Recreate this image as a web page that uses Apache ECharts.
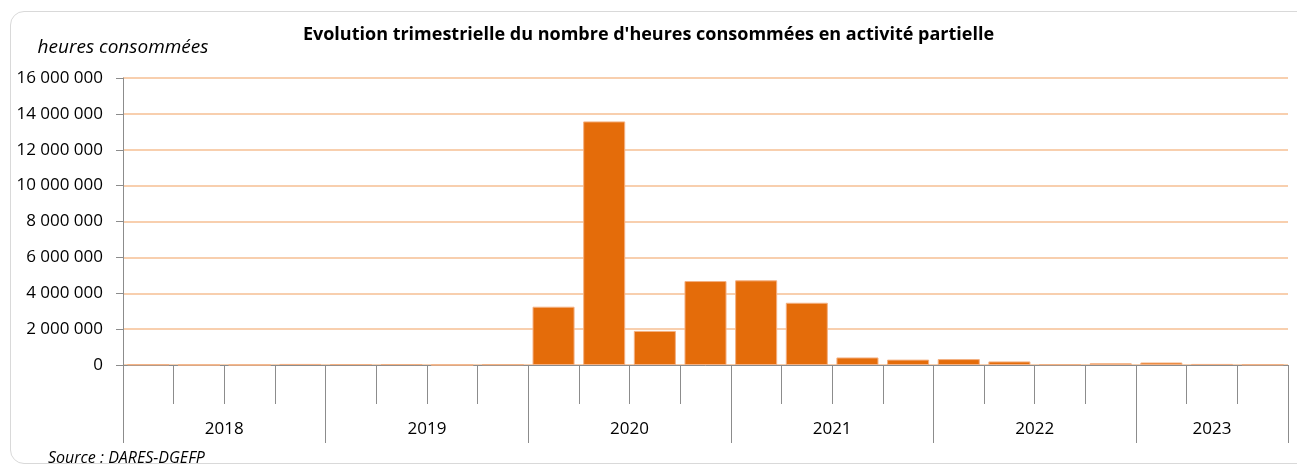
<!DOCTYPE html>
<html>
<head>
<meta charset="utf-8">
<script src="https://cdn.jsdelivr.net/npm/echarts@6/dist/echarts.min.js"></script>
<style>
    body { margin: 0; background: #fff; }
    #frame { position: absolute; left: 10px; top: 11px; width: 1400px; height: 451px; border: 1px solid #d9d9d9; border-radius: 14px; }
    #chart { position: absolute; left: 0; top: 0; width: 1297px; height: 466px; }
</style>
</head>
<body>
<div id="frame"></div>
<div id="chart"></div>
<script>
// Data
var years = ['2018', '2019', '2020', '2021', '2022', '2023'];
var quartersPerYear = [4, 4, 4, 4, 4, 3];
var quarters = ['T1', 'T2', 'T3', 'T4', 'T1', 'T2', 'T3', 'T4', 'T1', 'T2', 'T3', 'T4',
    'T1', 'T2', 'T3', 'T4', 'T1', 'T2', 'T3', 'T4', 'T1', 'T2', 'T3'];
var hours = [30000, 0, 0, 60000, 50000, 50000, 0, 40000,
    3250000, 13580000, 1900000, 4680000,
    4720000, 3470000, 420000, 300000,
    330000, 200000, 40000, 100000,
    140000, 60000, 30000];

// year boundaries and centres, in quarter units
var yearBounds = [0];
var yearCentres = [];
var pos = 0;
for (var i = 0; i < years.length; i++) {
    yearCentres.push(pos + quartersPerYear[i] / 2);
    pos += quartersPerYear[i];
    yearBounds.push(pos);
}

function spaced(v) {
    return String(v).replace(/\B(?=(\d{3})+(?!\d))/g, ' ');
}

var chart = echarts.init(document.getElementById('chart'));
var option = {
    animation: false,
    textStyle: { fontFamily: 'Open Sans' },
    title: [
        {
            text: "Evolution trimestrielle du nombre d'heures consommées en activité partielle",
            left: 'center',
            top: 21,
            textStyle: { fontSize: 18, fontWeight: 'bold', color: '#000', fontFamily: 'Open Sans' }
        },
        {
            text: 'Source : DARES-DGEFP',
            left: 43,
            top: 445,
            textStyle: { fontSize: 16, fontWeight: 'normal', fontStyle: 'italic', color: '#000', fontFamily: 'Open Sans' }
        }
    ],
    grid: { left: 123, right: 9, top: 78, bottom: 101 },
    xAxis: [
        {
            type: 'category',
            data: quarters,
            axisLine: { lineStyle: { color: '#8c8c8c', width: 1 } },
            axisTick: { show: true, length: 39, lineStyle: { color: '#8c8c8c' } },
            axisLabel: { show: false }
        },
        {
            type: 'value',
            min: 0,
            max: quarters.length,
            position: 'bottom',
            splitLine: { show: false },
            axisLine: { show: false },
            axisTick: { show: true, length: 78, customValues: yearBounds, lineStyle: { color: '#8c8c8c' } },
            axisLabel: {
                margin: 56,
                fontSize: 17,
                color: '#000',
                customValues: yearCentres,
                formatter: function (v) {
                    var idx = yearCentres.indexOf(v);
                    return idx >= 0 ? years[idx] : '';
                }
            }
        }
    ],
    yAxis: {
        type: 'value',
        min: 0,
        max: 16000000,
        interval: 2000000,
        name: 'heures consommées',
        nameLocation: 'end',
        nameGap: 21,
        nameTextStyle: { fontSize: 19, fontStyle: 'italic', color: '#000', align: 'center' },
        axisLine: { show: true, lineStyle: { color: '#8c8c8c' } },
        axisTick: { show: true, length: 7, lineStyle: { color: '#8c8c8c' } },
        axisLabel: { fontSize: 17, color: '#000', margin: 20, formatter: spaced },
        splitLine: { lineStyle: { color: '#f8cfae', width: 2 } }
    },
    series: [
        {
            name: 'heures consommées',
            type: 'bar',
            xAxisIndex: 0,
            data: hours,
            barCategoryGap: '17%',
            itemStyle: { color: '#e46c0a', borderColor: '#f4b183', borderWidth: 1 }
        }
    ]
};
chart.setOption(option);
</script>
</body>
</html>
